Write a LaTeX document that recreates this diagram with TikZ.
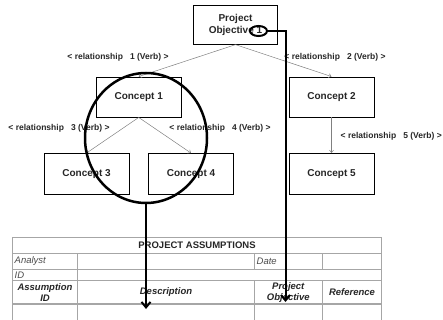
\documentclass[tikz,border=0pt]{standalone}
\usepackage{fontspec}
\setmainfont{Liberation Sans}
\usetikzlibrary{arrows.meta,shapes.geometric}
\begin{document}
\begin{tikzpicture}[x=1pt,y=-1pt,
  box/.style={draw=black,line width=0.9pt,minimum width=85pt,minimum height=40pt,inner sep=0pt,
    font=\fontsize{10}{11.5}\selectfont\bfseries,align=center,text=black!85},
  rel/.style={draw=gray,line width=0.5pt,-{Straight Barb[length=2.5pt,width=4pt]}},
  rellabel/.style={font=\fontsize{8.5}{9}\selectfont\bfseries,inner sep=0pt,text=black!85},
  bigarrow/.style={line width=2pt,-{Straight Barb[length=5.5pt,width=9pt,line width=2pt]}},
  grid/.style={draw=gray!70,line width=1.2pt},
  cell/.style={inner sep=0pt,font=\fontsize{9.5}{11}\selectfont\itshape,text=black!70},
  hcell/.style={inner sep=0pt,font=\fontsize{9.5}{10.5}\selectfont\bfseries\itshape,align=center,text=black!85}
]
\useasboundingbox (0,0) rectangle (443,320);

% concept map boxes
\node[box,minimum width=84pt,minimum height=39pt] (po) at (235.5,24.7) {Project\\Objective 1};
\node[box] (c1) at (138.7,97) {Concept 1};
\node[box] (c2) at (331.5,97) {Concept 2};
\node[box,minimum height=41pt] (c3) at (86.5,174) {Concept 3};
\node[box,minimum height=41pt] (c4) at (191,174) {Concept 4};
\node[box,minimum height=41pt] (c5) at (331.5,174) {Concept 5};

% relationship connectors
\draw[rel] (po.south) -- (c1.north);
\draw[rel] (po.south) -- (c2.north);
\draw[rel] (c1.south) -- (c3.north);
\draw[rel] (c1.south) -- (c4.north);
\draw[rel] (c2.south) -- (c5.north);

% relationship labels
\node[rellabel] (r1) at (118,57) {<\ relationship\ \ \ 1 (Verb)\ >};
\node[rellabel] (r2) at (335,57) {<\ relationship\ \ \ 2 (Verb)\ >};
\node[rellabel] (r3) at (59,128) {<\ relationship\ \ \ 3 (Verb)\ >};
\node[rellabel] (r4) at (220,128) {<\ relationship\ \ \ 4 (Verb)\ >};
\node[rellabel,anchor=east] (r5) at (442,136) {<\ relationship\ \ \ 5 (Verb)\ >};

% table grid
\draw[grid] (12.7,320) -- (12.7,237.3) -- (381.7,237.3) -- (381.7,320);
\foreach \yy in {253.5,269.3,280.5,304}{
  \draw[grid] (12.7,\yy) -- (381.7,\yy);
}
\draw[grid] (77.3,253.5) -- (77.3,320);
\draw[grid] (254.3,253.5) -- (254.3,269.3);
\draw[grid] (254.3,280.5) -- (254.3,320);
\draw[grid] (322.3,253.5) -- (322.3,269.3);
\draw[grid] (322.3,280.5) -- (322.3,320);

% table texts
\node[inner sep=0pt,font=\fontsize{9.5}{11}\selectfont\bfseries,text=black!85] (title) at (197,245.5) {PROJECT ASSUMPTIONS};
\node[cell,anchor=west] (analyst) at (14.5,261.5) {Analyst};
\node[cell,anchor=west] (date) at (256.5,261.5) {Date};
\node[cell,anchor=west] (idl) at (14.5,275) {ID};
\node[hcell] (aid) at (45,292.5) {Assumption\\ID};
\node[hcell] (desc) at (166,292.5) {Description};
\node[hcell] (pobj) at (288.3,292.5) {Project\\Objective};
\node[hcell] (ref) at (352,292.5) {Reference};

% highlights
\node[draw=black,line width=2pt,ellipse,minimum width=17pt,minimum height=10pt,inner sep=0pt] (mark) at (258.5,31) {};
\node[draw=black,line width=2.5pt,ellipse,minimum width=122pt,minimum height=130pt,inner sep=0pt] (focus) at (146,138) {};

\coordinate (descTip) at (146,309);
\coordinate (objTip) at (285.5,302);
\draw[bigarrow] (focus.south) -- (descTip);
\draw[bigarrow] (mark.east) -| (objTip);
\end{tikzpicture}
\end{document}
